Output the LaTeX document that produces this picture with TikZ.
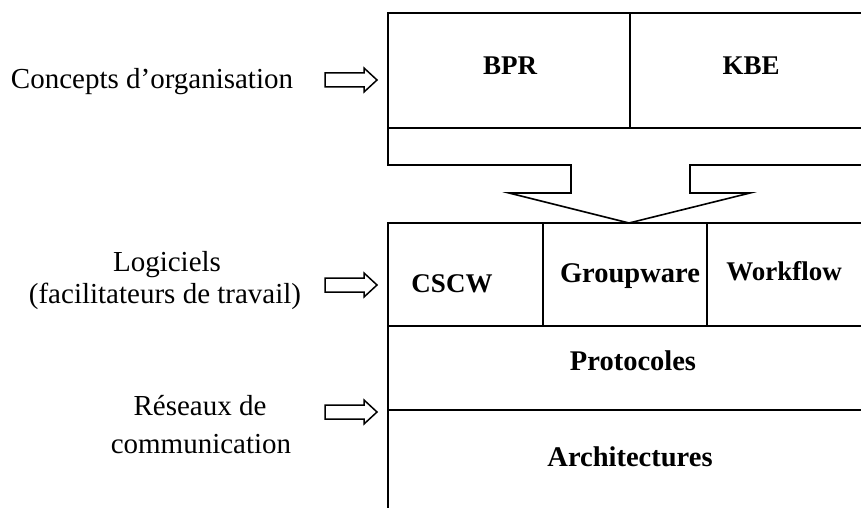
\documentclass[tikz,border=0pt]{standalone}
\usepackage{fontspec}
\setmainfont{Liberation Serif}
\tikzset{
  side/.style={font=\fontsize{29}{33}\selectfont, anchor=base, inner sep=0pt},
  layer/.style={font=\fontsize{27}{31}\selectfont\bfseries, anchor=base, inner sep=0pt},
  biglayer/.style={font=\fontsize{28.5}{32}\selectfont\bfseries, anchor=base, inner sep=0pt},
  frame/.style={line width=1.6pt, line join=miter},
  blockarrow/.style={line width=1.5pt, line join=miter}
}
\begin{document}
\begin{tikzpicture}[x=1pt,y=-1pt]
            \useasboundingbox (0,0) rectangle (861,508);
            \clip (0,0) rectangle (861,508);

            % draw the top box
            \draw[frame] (875,13) -- (388,13) -- (388,128) -- (875,128);
            \draw[frame] (630,13) -- (630,128);

            % the funnel
            \draw[frame] (388,128) -- (388,165) -- (571,165) -- (571,193) -- (509,193)
                -- (629,223) -- (750,193) -- (690,193) -- (690,165) -- (875,165);

            % draw the lower box
            \draw[frame] (875,223) -- (388,223) -- (388,520);
            \draw[frame] (543,223) -- (543,326);
            \draw[frame] (707,223) -- (707,326);
            \draw[frame] (388,326) -- (875,326);
            \draw[frame] (388,410) -- (875,410);

            % block arrows
            \foreach \c in {80,285,412}
                \draw[blockarrow] (325,\c-7) -- (364,\c-7) -- (364,\c-12) -- (377,\c)
                    -- (364,\c+12) -- (364,\c+7) -- (325,\c+7) -- cycle;

            % text at the left
            \node[side] (concepts) at (152,89) {Concepts d’organisation};
            \node[side] (logiciels) at (167,271) {Logiciels};
            \node[side] (facilitateurs) at (165,303) {(facilitateurs de travail)};
            \node[side] (reseaux) at (200,415) {Réseaux de};
            \node[side] (communication) at (201,453) {communication};

            % text in the boxes
            \node[layer] (bpr) at (510,75) {BPR};
            \node[layer] (kbe) at (751,75) {KBE};
            \node[layer] (cscw) at (452,292) {CSCW};
            \node[biglayer] (groupware) at (630,282) {Groupware};
            \node[layer] (workflow) at (784,280) {Workflow};
            \node[biglayer] (protocoles) at (633,370) {Protocoles};
            \node[biglayer] (architectures) at (630,466) {Architectures};

        \end{tikzpicture}
\end{document}
